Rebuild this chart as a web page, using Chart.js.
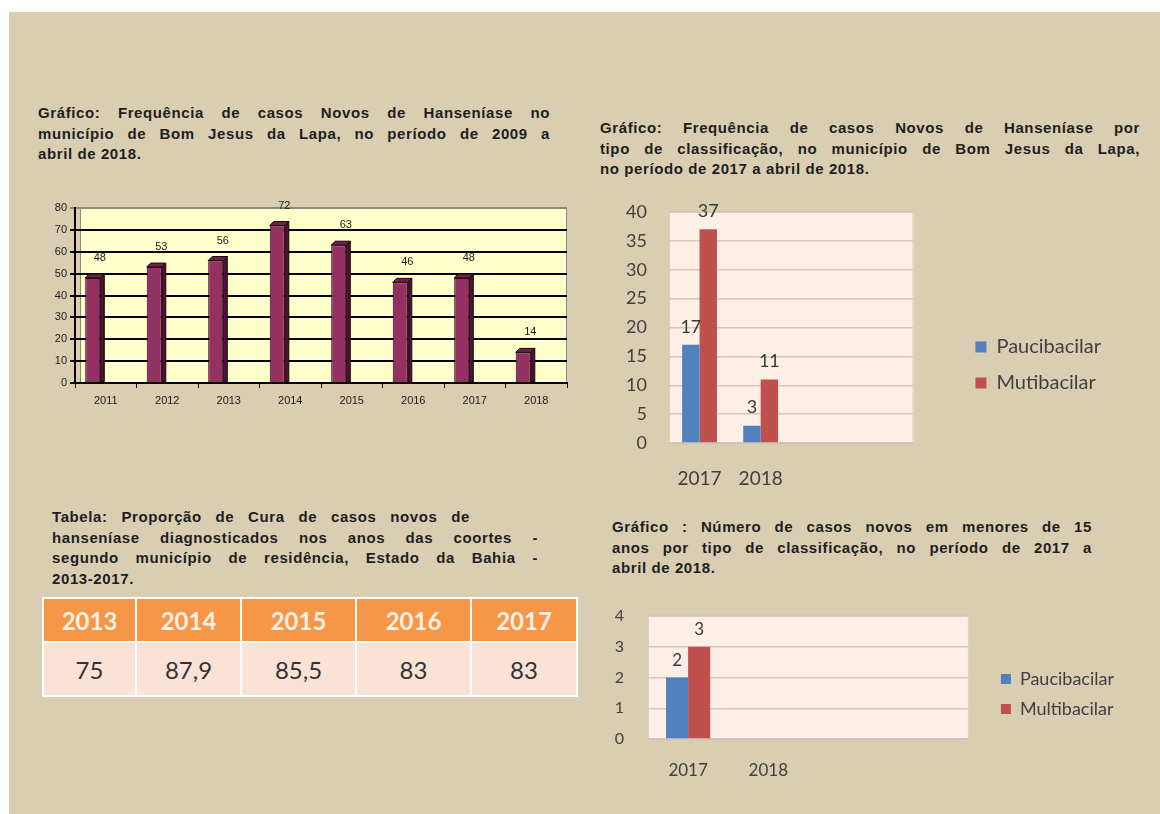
<!DOCTYPE html>
<html lang="pt-BR">
<head>
<meta charset="utf-8">
<title>Hanseníase - Bom Jesus da Lapa</title>
<script src="https://cdn.jsdelivr.net/npm/chart.js@4.4.1/dist/chart.umd.min.js"></script>
<style>
    html, body { margin: 0; padding: 0; background: #fff; }
    body { position: relative; width: 1160px; height: 814px; overflow: hidden; font-family: "Liberation Sans", Arial, sans-serif; }
    #slide { position: absolute; left: 9px; top: 12px; right: 0; bottom: 0; background: #d9ceb2; }
    .caption { position: absolute; font-weight: bold; font-size: 15px; letter-spacing: 0.6px; line-height: 20.5px; color: #1e1e1e; }
    .caption div { white-space: nowrap; }
    .caption .j { text-align: justify; text-align-last: justify; white-space: normal; }
    .box { position: absolute; }
    #cure { position: absolute; left: 42px; top: 597px; border-collapse: collapse; font-family: Lato, sans-serif; }
    #cure th, #cure td { border: 2px solid #fff; text-align: center; padding: 0; }
    #cure th { background: #f79646; color: #fdf0e4; font-weight: bold; font-size: 24px; height: 42px; }
    #cure td { background: #fbe2d6; color: #333; font-size: 24px; height: 52px; }
</style>
</head>
<body>
<div id="slide"></div>

<div class="caption" style="left:38px; top:103px; width:512px;">
    <div class="j">Gráfico: Frequência de casos  Novos de Hanseníase  no</div>
    <div class="j">município de Bom Jesus  da Lapa, no período de 2009 a</div>
    <div>abril de 2018.</div>
</div>

<div class="caption" style="left:600px; top:118px; width:540px;">
    <div class="j">Gráfico:  Frequência de casos  Novos de Hanseníase  por</div>
    <div class="j">tipo de classificação,  no município de Bom Jesus da Lapa,</div>
    <div>no período de 2017 a abril de 2018.</div>
</div>

<div class="caption" style="left:52px; top:507px; width:486px;">
    <div class="j" style="width:418px;">Tabela:  Proporção de Cura de casos  novos de</div>
    <div class="j">hanseníase  diagnosticados  nos anos das coortes  -</div>
    <div class="j">segundo município de residência,  Estado da Bahia -</div>
    <div>2013-2017.</div>
</div>

<div class="caption" style="left:612px; top:517px; width:480px;">
    <div class="j">Gráfico : Número de casos  novos em menores de 15</div>
    <div class="j">anos por tipo de classificação,  no período de 2017 a</div>
    <div>abril de 2018.</div>
</div>

<table id="cure">
    <thead><tr id="cureHead"></tr></thead>
    <tbody><tr id="cureBody"></tr></tbody>
</table>

<canvas id="casesChart" class="box" width="545" height="221" style="left:30px; top:190px;"></canvas>
<canvas id="typeChart" class="box" width="511" height="305" style="left:600px; top:190px;"></canvas>
<canvas id="childChart" class="box" width="524" height="184" style="left:600px; top:600px;"></canvas>

<script>
/* ============================================================
 * DATA
 * ============================================================ */

const caseYears = ["2011", "2012", "2013", "2014", "2015", "2016", "2017", "2018"];
const newCases = [48, 53, 56, 72, 63, 46, 48, 14];

const typeYears = ["2017", "2018"];
const typePauci = [17, 3];
const typeMulti = [37, 11];

const childYears = ["2017", "2018"];
const childPauci = [2, null];
const childMulti = [3, null];

const emptySlots = ["", ""]; // blank categories on the right of the plot

const cureYears = ["2013", "2014", "2015", "2016", "2017"];
const cureRates = ["75", "87,9", "85,5", "83", "83"];
const cureColWidths = [91, 103, 113, 113, 104];

/* ============================================================
 * TABLE
 * ============================================================ */

cureYears.forEach((year, i) => {
    const th = document.createElement("th");
    th.textContent = year;
    th.style.width = cureColWidths[i] + "px";
    document.getElementById("cureHead").appendChild(th);

    const td = document.createElement("td");
    td.textContent = cureRates[i];
    document.getElementById("cureBody").appendChild(td);
});

/* ============================================================
 * PLUGINS
 * ============================================================ */

const plotBackground = {
    id: "plotBackground",
    beforeDraw(chart, args, opts) {
        const { ctx, chartArea: a } = chart;
        const left = a.left + (opts.inset || 0);
        ctx.save();
        ctx.fillStyle = opts.color;
        ctx.fillRect(left, a.top, a.right - left, a.bottom - a.top);
        if (opts.border) {
            ctx.strokeStyle = opts.border;
            ctx.lineWidth = 1;
            ctx.strokeRect(left + 0.5, a.top + 0.5, a.right - left - 1, a.bottom - a.top - 1);
        }
        ctx.restore();
    }
};

// old excel 3d look: bars pushed to the front plane + side and top faces
const bars3d = {
    id: "bars3d",
    beforeDatasetsDraw(chart, args, opts) {
        chart.ctx.save();
        chart.ctx.translate(opts.shift, 0);
    },
    afterDatasetsDraw(chart, args, opts) {
        const ctx = chart.ctx;
        const d = opts.depth;
        chart.getDatasetMeta(0).data.forEach(bar => {
            const l = bar.x - bar.width / 2;
            const r = bar.x + bar.width / 2;
            ctx.lineWidth = 1;
            ctx.strokeStyle = "#1a0610";

            ctx.fillStyle = opts.side;
            ctx.beginPath();
            ctx.moveTo(r, bar.y);
            ctx.lineTo(r + d, bar.y - d);
            ctx.lineTo(r + d, bar.base);
            ctx.lineTo(r, bar.base);
            ctx.closePath();
            ctx.fill();
            ctx.stroke();

            ctx.fillStyle = opts.top;
            ctx.beginPath();
            ctx.moveTo(l, bar.y);
            ctx.lineTo(l + d, bar.y - d);
            ctx.lineTo(r + d, bar.y - d);
            ctx.lineTo(r, bar.y);
            ctx.closePath();
            ctx.fill();
            ctx.stroke();
        });
        ctx.restore();
    }
};

const valueLabels = {
    id: "valueLabels",
    afterDatasetsDraw(chart, args, opts) {
        const ctx = chart.ctx;
        ctx.save();
        ctx.font = opts.font;
        ctx.fillStyle = opts.color;
        ctx.textAlign = "center";
        ctx.textBaseline = "middle";
        chart.data.datasets.forEach((ds, i) => {
            chart.getDatasetMeta(i).data.forEach((bar, j) => {
                const v = ds.data[j];
                if (v === null || v === undefined) return;
                ctx.fillText(String(v), bar.x + (opts.dx || 0), bar.y - opts.dy);
            });
        });
        ctx.restore();
    }
};

/* ============================================================
 * CASES CHART 2011-2018
 * ============================================================ */

new Chart(document.getElementById("casesChart"), {
    type: "bar",
    data: {
        labels: caseYears,
        datasets: [{
            data: newCases,
            backgroundColor: "#953062",
            borderColor: "#1a0610",
            borderWidth: 1,
            categoryPercentage: 1,
            barPercentage: 0.245
        }]
    },
    plugins: [plotBackground, bars3d, valueLabels],
    options: {
        responsive: false,
        animation: false,
        layout: { padding: { top: 18, right: 8 } },
        plugins: {
            legend: { display: false },
            tooltip: { enabled: false },
            plotBackground: { color: "#ffffcc", inset: 5, border: "#8a8a7a" },
            bars3d: { shift: -13, depth: 4, side: "#4d1230", top: "#6e1f47" },
            valueLabels: { font: "11px 'Liberation Sans'", color: "#1a1a1a", dx: -6, dy: 20 }
        },
        scales: {
            x: {
                grid: { offset: true, drawOnChartArea: false, drawTicks: true, tickLength: 5, color: "#000" },
                border: { color: "#000", width: 2 },
                ticks: { font: { family: "Liberation Sans", size: 11 }, color: "#1a1a1a", padding: 6 },
                afterFit(scale) { scale.height = 28; }
            },
            y: {
                min: 0,
                max: 80,
                ticks: { stepSize: 10, font: { family: "Liberation Sans", size: 11 }, color: "#1a1a1a", padding: 3 },
                grid: {
                    drawTicks: true,
                    tickLength: 5,
                    lineWidth: 2,
                    color: c => (c.tick && c.tick.value === 80 ? "#8a8a7a" : "#000")
                },
                border: { color: "#000", width: 2 },
                afterFit(scale) { scale.width = 45; }
            }
        }
    }
});

/* ============================================================
 * CLASSIFICATION CHARTS (shared look)
 * ============================================================ */

function classChart(canvasId, years, pauci, multi, multiName, look) {
    return new Chart(document.getElementById(canvasId), {
        type: "bar",
        data: {
            labels: years.concat(emptySlots),
            datasets: [{
                label: "Paucibacilar",
                data: pauci,
                yAxisID: "y",
                backgroundColor: "#4f81bd",
                borderWidth: 0,
                categoryPercentage: look.groupWidth,
                barPercentage: 1
            }, {
                label: multiName,
                data: multi,
                yAxisID: "y",
                backgroundColor: "#c0504d",
                borderWidth: 0,
                categoryPercentage: look.groupWidth,
                barPercentage: 1
            }]
        },
        plugins: [plotBackground, valueLabels],
        options: {
            responsive: false,
            animation: false,
            layout: { padding: { top: look.top } },
            plugins: {
                tooltip: { enabled: false },
                plotBackground: { color: "#fdeee6", border: "#ddd0c6" },
                valueLabels: { font: look.labelSize + "px Lato", color: "#3a3a3a", dy: look.labelSize },
                legend: {
                    position: "right",
                    align: "start",
                    maxWidth: 260,
                    title: { display: true, text: "", font: { size: 10, lineHeight: 1 }, padding: { top: look.legendDrop, bottom: 0 } },
                    labels: {
                        boxWidth: look.box,
                        boxHeight: look.box,
                        padding: look.legendPad,
                        color: "#404040",
                        font: { family: "Lato", size: look.legendSize }
                    }
                }
            },
            scales: {
                x: {
                    grid: { display: false, drawTicks: false },
                    border: { color: "#cdbfb4", width: 1 },
                    ticks: { font: { family: "Lato", size: look.xSize }, color: "#404040", padding: look.xPad },
                    afterFit(scale) { scale.height = look.xHeight; }
                },
                y: {
                    min: 0,
                    max: look.max,
                    ticks: { stepSize: look.step, font: { family: "Lato", size: look.ySize }, color: "#404040", padding: 0 },
                    grid: { color: "#d9c4b8", lineWidth: 1.5, drawTicks: true, tickLength: look.yPad, tickColor: "rgba(0,0,0,0)" },
                    border: { display: false },
                    afterFit(scale) { scale.width = look.yWidth; }
                },
                gap: {
                    position: "right",
                    grid: { display: false, drawTicks: false },
                    border: { display: false },
                    ticks: { display: false },
                    afterFit(scale) { scale.width = look.gap; }
                }
            }
        }
    });
}

classChart("typeChart", typeYears, typePauci, typeMulti, "Mutibacilar", {
    groupWidth: 0.57, top: 22, max: 40, step: 5,
    labelSize: 18, xSize: 19, ySize: 18, legendSize: 20,
    xPad: 24, xHeight: 52, yPad: 22, yWidth: 69,
    box: 11, legendPad: 16, legendDrop: 99, gap: 46
});

classChart("childChart", childYears, childPauci, childMulti, "Multibacilar", {
    groupWidth: 0.55, top: 16, max: 4, step: 1,
    labelSize: 17, xSize: 17, ySize: 16, legendSize: 18,
    xPad: 21, xHeight: 45, yPad: 24, yWidth: 48,
    box: 10, legendPad: 12, legendDrop: 32, gap: 20
});
</script>
</body>
</html>
